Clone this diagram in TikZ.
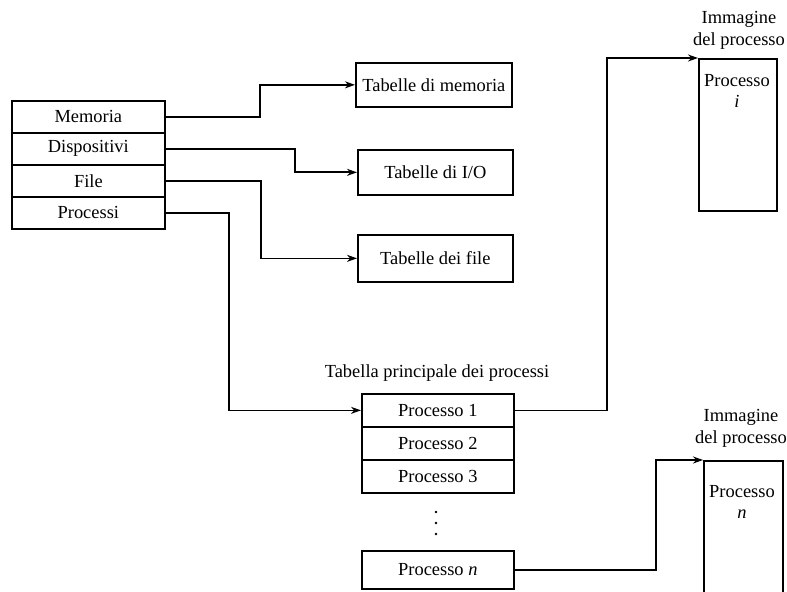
\documentclass[tikz,border=0pt]{standalone}
\usepackage{fontspec}
\setmainfont{Liberation Serif}
\usetikzlibrary{arrows.meta}
\begin{document}
\begin{tikzpicture}[x=1bp,y=-1bp,
  every node/.style={font=\fontsize{18.5}{22}\selectfont},
  cell/.style={draw, line width=1.7bp, inner sep=0pt, anchor=north west},
  lbl/.style={inner sep=0pt, align=center},
  conn/.style={line width=1.7bp, -{Stealth[length=10bp,width=7bp]}}]
\useasboundingbox (0,0) rectangle (787,592);
% left table
\node[cell, minimum width=153bp, minimum height=32bp] (mem) at (11,100) {Memoria};
\node[cell, minimum width=153bp, minimum height=32bp] (dis) at (11,132) {Dispositivi};
\node[cell, minimum width=153bp, minimum height=32bp] (fil) at (11,164) {File};
\node[cell, minimum width=153bp, minimum height=32bp] (pro) at (11,196) {Processi};
% tables
\node[cell, minimum width=156bp, minimum height=44bp] (tmem) at (355,62) {Tabelle di memoria};
\node[cell, minimum width=155bp, minimum height=45bp] (tio) at (357,149) {Tabelle di I/O};
\node[cell, minimum width=155bp, minimum height=47bp] (tfil) at (357,234) {Tabelle dei file};
% main process table
\node[lbl] (ttl) at (437,373) {Tabella principale dei processi};
\node[cell, minimum width=152bp, minimum height=33bp] (p1) at (361,393) {Processo 1};
\node[cell, minimum width=152bp, minimum height=33bp] (p2) at (361,426) {Processo 2};
\node[cell, minimum width=152bp, minimum height=33bp] (p3) at (361,459) {Processo 3};
\fill (436,512) circle (1.4bp) (436,523) circle (1.4bp) (436,534) circle (1.4bp);
\node[cell, minimum width=152bp, minimum height=38bp] (pn) at (361,550) {Processo \textit{n}};
% process images
\node[lbl] (im1l) at (739,30) {Immagine\\del processo};
\node[cell, minimum width=78bp, minimum height=152bp] (img1) at (698,58) {};
\node[lbl] (im1t) at (737,91) {Processo\\\textit{i}};
\node[lbl] (im2l) at (741,428) {Immagine\\del processo};
\node[cell, minimum width=79bp, minimum height=150bp] (img2) at (703,460) {};
\node[lbl] (im2t) at (742,502) {Processo\\\textit{n}};
% connectors
\draw[conn] (mem.east) -- ++(94,0) |- (tmem.west);
\draw[conn] (dis.east) -- ++(129,0) |- (tio.west);
\draw[conn] (fil.east) -- ++(95,0) |- (tfil.west);
\draw[conn] (pro.east) -- ++(63,0) |- (p1.west);
\draw[conn] (p1.east) -- ++(92,0) |- (img1.north west);
\draw[conn] (pn.east) -- ++(141,0) |- (img2.north west);
\end{tikzpicture}
\end{document}
